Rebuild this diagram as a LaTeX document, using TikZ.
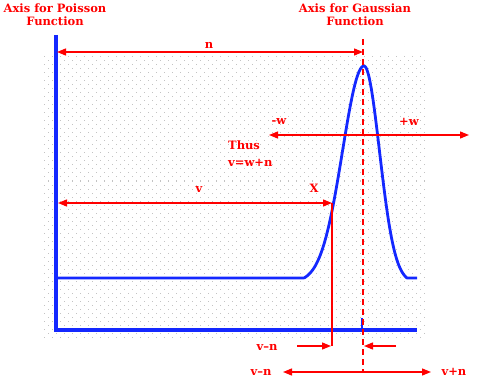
\documentclass[tikz,border=0pt]{standalone}
\usepackage{fontspec}
\setmainfont{DejaVu Serif}
\usetikzlibrary{arrows.meta}
\definecolor{myred}{RGB}{255,0,0}
\definecolor{myblue}{RGB}{20,40,255}
\definecolor{dotgray}{RGB}{195,195,195}
\begin{document}
\begin{tikzpicture}[x=1pt,y=-1pt,
  lbl/.style={text=myred,font=\bfseries\fontsize{11.5}{13}\selectfont,inner sep=0pt,align=center},
  redline/.style={draw=myred,line width=1.3pt},
  tip/.style={-{Triangle[length=9pt,width=7pt]}},
  dbl/.style={redline,{Triangle[length=9pt,width=7pt]}-{Triangle[length=9pt,width=7pt]}},
  blueax/.style={draw=myblue,line width=3.2pt},
  dashline/.style={draw=myred,line width=1.3pt,dash pattern=on 6pt off 4pt}]
\useasboundingbox (0,0) rectangle (484,382);
% dotted background
\foreach \r in {0,...,70}{
  \pgfmathsetmacro\yy{57+4*\r}
  \pgfmathsetmacro\off{mod(\r,2)*4}
  \foreach \c in {0,...,47}{
    \fill[dotgray] (43.5+\off+8*\c,\yy-0.5) rectangle ++(1,1);
  }
}
% coordinates
\coordinate (axtop) at (56,35);
\coordinate (axcorner) at (56,330);
\coordinate (axend) at (417,330);
\coordinate (spktop) at (362,318);
\coordinate (spkbot) at (362,330);
\coordinate (gtop) at (363,39);
\coordinate (gbot) at (363,372);
\coordinate (nL) at (57,52);
\coordinate (nR) at (363,52);
\coordinate (wL) at (269,135);
\coordinate (wR) at (469,135);
\coordinate (vL) at (58,203);
\coordinate (X) at (332,203);
\coordinate (Xbot) at (332,346);
\coordinate (a1s) at (297,346);
\coordinate (a1e) at (331,346);
\coordinate (a2s) at (396,346);
\coordinate (a2e) at (364,346);
\coordinate (bL) at (283,372);
\coordinate (bR) at (431,372);
% blue axes
\draw[blueax] (axtop) -- (axcorner) -- (axend);
\draw[draw=myblue,line width=1.2pt] (spktop) -- (spkbot);
% gaussian
\draw[blueax,line width=2.8pt,line join=round]
  (56,278) -- (304,278)
  -- plot[domain=304:364,samples=70] (\x,{278-212*(exp(-((\x-364)/21.5)^2/2)-0.0204)/0.9796})
  -- plot[domain=364:407,samples=50] (\x,{278-212*(exp(-((\x-364)/15.5)^2/2)-0.0214)/0.9786})
  -- (417,278);
% red lines
\draw[dashline] (gtop) -- (gbot);
\draw[dbl] (nL) -- (nR);
\draw[dbl] (wL) -- (wR);
\draw[dbl] (vL) -- (X);
\draw[redline] (X) -- (Xbot);
\draw[redline,tip] (a1s) -- (a1e);
\draw[redline,tip] (a2s) -- (a2e);
\draw[dbl] (bL) -- (bR);
% labels
\node[lbl] (tp) at (55,15) {Axis for Poisson\\Function};
\node[lbl] (tg) at (355,15) {Axis for Gaussian\\Function};
\node[lbl] (ln) at (209,45) {n};
\node[lbl] (lmw) at (279,122) {-w};
\node[lbl] (lpw) at (409,122) {+w};
\node[lbl,anchor=west] (thus) at (228,145) {Thus};
\node[lbl,anchor=west] (eq) at (228,163) {v=w+n};
\node[lbl] (lv) at (199,190) {v};
\node[lbl] (lx) at (314,188) {X};
\node[lbl] (lvn1) at (267,347) {v–n};
\node[lbl] (lvn2) at (261,372) {v–n};
\node[lbl] (lvpn) at (454,372) {v+n};
\end{tikzpicture}
\end{document}
